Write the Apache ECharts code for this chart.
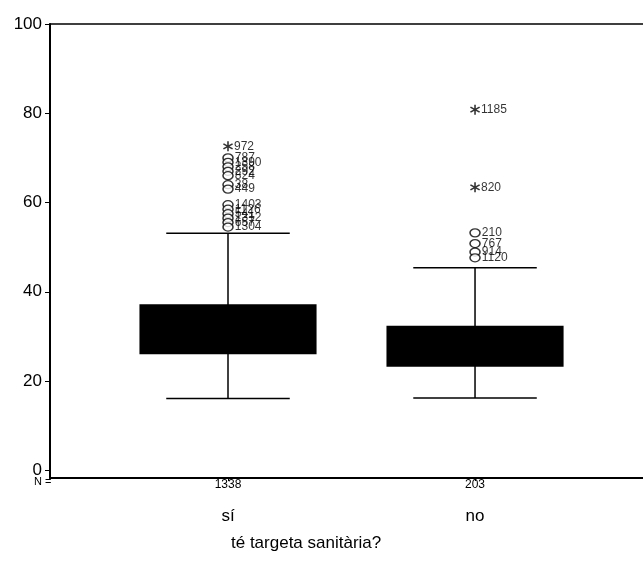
<!DOCTYPE html>
<html>
<head>
<meta charset="utf-8">
<script src="https://cdn.jsdelivr.net/npm/echarts@6/dist/echarts.min.js"></script>
<style>
html, body { margin: 0; padding: 0; background: #fff; }
#main { width: 643px; height: 567px; }
</style>
</head>
<body>
<div id="main"></div>
<script>
// categories and group sizes
var categories = ['sí', 'no'];
var counts = [1338, 203];

// box statistics per category: whisker low, Q1, median, Q3, whisker high
var whiskerLow = [16.1, 16.2];
var q1 = [26.0, 23.2];
var median = [31, 27];
var q3 = [37.2, 32.4];
var whiskerHigh = [53.1, 45.4];

// outliers (circles): category index, value, case label
var outlierCat = [0, 0, 0, 0, 0, 0, 0, 0, 0, 0, 0, 0, 0, 1, 1, 1, 1];
var outlierVal = [70, 69, 68, 67, 66, 64, 63, 59.5, 58.5, 57.5, 56.5, 55.5, 54.5, 53.2, 50.8, 48.9, 47.6];
var outlierCase = ['787', '1390', '258', '292', '824', '38', '449', '1403', '1126', '541', '1312', '657', '1304', '210', '767', '914', '1120'];

// extremes (asterisks)
var extremeCat = [0, 1, 1];
var extremeVal = [72.6, 80.8, 63.4];
var extremeCase = ['972', '1185', '820'];

var yTicks = [0, 20, 40, 60, 80, 100];

var font = "'Liberation Sans', Arial, sans-serif";
var asterisk = 'path://M8.5 0L11.5 0L11.5 20L8.5 20Z M0.6 6.3L2.1 3.7L19.4 13.7L17.9 16.3Z M2.1 16.3L0.6 13.7L17.9 3.7L19.4 6.3Z';

var boxData = categories.map(function (c, i) {
    return [i + 1, whiskerLow[i], q1[i], median[i], q3[i], whiskerHigh[i]];
});
var outlierData = outlierVal.map(function (v, i) {
    return [outlierCat[i] + 1, v, outlierCase[i]];
});
var extremeData = extremeVal.map(function (v, i) {
    return [extremeCat[i] + 1, v, extremeCase[i]];
});

var xMin = 0.2794, xMax = 2.68;

var myChart = echarts.init(document.getElementById('main'));

var option = {
    animation: false,
    backgroundColor: '#fff',
    textStyle: { fontFamily: font },
    title: {
        text: 'té targeta sanitària?',
        left: 226,
        top: 530,
        textStyle: { fontSize: 17, fontWeight: 'normal', color: '#000', fontFamily: font }
    },
    graphic: [{
        type: 'text',
        left: 34,
        top: 476,
        style: { text: 'N =', fontSize: 11, fill: '#000', fontFamily: font }
    }],
    grid: {
        left: 50,
        right: 0,
        top: 24,
        bottom: 89
    },
    xAxis: [{
        type: 'value',
        min: xMin,
        max: xMax,
        splitLine: { show: false },
        axisLine: { show: true, onZero: false, lineStyle: { color: '#000', width: 2 } },
        axisTick: { show: true, customValues: [1, 2], length: 3, lineStyle: { color: '#000' } },
        axisLabel: {
            customValues: [1, 2],
            margin: 1,
            fontSize: 12,
            color: '#000',
            fontFamily: font,
            formatter: function (v) { return String(counts[Math.round(v) - 1]); }
        }
    }, {
        type: 'value',
        position: 'bottom',
        min: xMin,
        max: xMax,
        splitLine: { show: false },
        axisLine: { show: false },
        axisTick: { show: false },
        axisLabel: {
            customValues: [1, 2],
            margin: 30,
            fontSize: 17,
            color: '#000',
            fontFamily: font,
            formatter: function (v) { return categories[Math.round(v) - 1]; }
        }
    }, {
        type: 'value',
        position: 'top',
        min: xMin,
        max: xMax,
        splitLine: { show: false },
        axisLine: { show: true, onZero: false, lineStyle: { color: '#000', width: 1.5 } },
        axisTick: { show: false },
        axisLabel: { show: false }
    }],
    yAxis: {
        type: 'value',
        min: -1.73,
        max: 100,
        splitLine: { show: false },
        axisLine: { show: true, onZero: false, lineStyle: { color: '#000', width: 2 } },
        axisTick: { show: true, customValues: yTicks, inside: false, length: 5, lineStyle: { color: '#000' } },
        axisLabel: { customValues: yTicks, margin: 8, fontSize: 17, color: '#000', fontFamily: font }
    },
    series: [{
        type: 'custom',
        name: 'box',
        data: boxData,
        encode: { x: 0, y: [1, 2, 3, 4, 5] },
        renderItem: function (params, api) {
            var x = api.value(0);
            var lo = api.coord([x, api.value(1)]);
            var b1 = api.coord([x, api.value(2)]);
            var b3 = api.coord([x, api.value(4)]);
            var hi = api.coord([x, api.value(5)]);
            var band = api.size([1, 0])[0];
            var bw = band * 0.717;
            var cw = band * 0.5;
            var line = { stroke: '#000', lineWidth: 1.5 };
            return {
                type: 'group',
                children: [
                    { type: 'line', shape: { x1: lo[0], y1: lo[1], x2: hi[0], y2: hi[1] }, style: line },
                    { type: 'line', shape: { x1: hi[0] - cw / 2, y1: hi[1], x2: hi[0] + cw / 2, y2: hi[1] }, style: line },
                    { type: 'line', shape: { x1: lo[0] - cw / 2, y1: lo[1], x2: lo[0] + cw / 2, y2: lo[1] }, style: line },
                    { type: 'rect', shape: { x: b3[0] - bw / 2, y: b3[1], width: bw, height: b1[1] - b3[1] }, style: { fill: '#000' } }
                ]
            };
        }
    }, {
        type: 'scatter',
        name: 'outliers',
        data: outlierData,
        symbol: 'circle',
        symbolSize: [10, 8],
        itemStyle: { color: '#fff', borderColor: '#000', borderWidth: 1.4 },
        label: {
            show: true,
            position: 'right',
            distance: 1,
            fontSize: 12,
            color: '#000',
            fontFamily: font,
            formatter: function (p) { return p.value[2]; }
        }
    }, {
        type: 'scatter',
        name: 'extremes',
        data: extremeData,
        symbol: asterisk,
        symbolSize: 10,
        itemStyle: { color: '#000' },
        label: {
            show: true,
            position: 'right',
            distance: 1,
            fontSize: 12,
            color: '#000',
            fontFamily: font,
            formatter: function (p) { return p.value[2]; }
        }
    }]
};
myChart.setOption(option);
</script>
</body>
</html>
